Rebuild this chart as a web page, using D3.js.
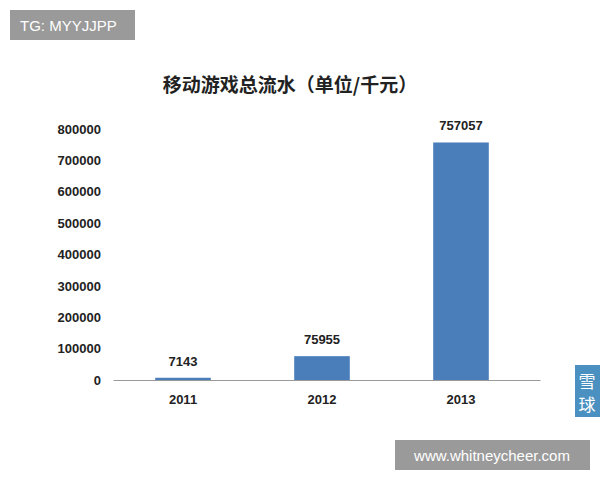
<!DOCTYPE html>
<html>
<head>
<meta charset="utf-8">
<script src="https://cdn.jsdelivr.net/npm/d3@7"></script>
<style>
  body { margin: 0; background: #fff; }
  svg { font-family: "Liberation Sans", Arial, sans-serif; }
</style>
</head>
<body>
<div id="vis"></div>
<script>
// chart data
const YEARS = ["2011", "2012", "2013"];
const REVENUE = [7143, 75955, 757057];
const Y_TICKS = [0, 100000, 200000, 300000, 400000, 500000, 600000, 700000, 800000];

const FRAME = d3.select("#vis").append("svg")
                .attr("width", 600).attr("height", 480);

const X_SCALE = d3.scaleBand().domain(YEARS).range([113.5, 530.5])
                  .paddingInner(0.6).paddingOuter(0.3);
const Y_SCALE = d3.scaleLinear().domain([0, 800000]).range([380, 129]);

// title
FRAME.append("text")
     .attr("x", 290).attr("y", 92)
     .attr("text-anchor", "middle")
     .attr("font-family", "Noto Sans CJK SC")
     .attr("font-size", 19).attr("font-weight", "bold").attr("fill", "#222")
     .text("移动游戏总流水（单位/千元）");

// y axis labels (no line)
const yAxis = FRAME.append("g")
     .attr("transform", "translate(101,0)")
     .call(d3.axisLeft(Y_SCALE).tickValues(Y_TICKS).tickSize(0).tickPadding(0).tickFormat(d3.format("d")));
yAxis.select(".domain").remove();
yAxis.selectAll("text").attr("font-size", 13).attr("font-weight", "bold").attr("fill", "#222")
     .attr("font-family", "Liberation Sans, Arial, sans-serif");

// bars
FRAME.selectAll(".bar").data(REVENUE).enter().append("rect")
     .attr("x", (d, i) => X_SCALE(YEARS[i]))
     .attr("y", d => Y_SCALE(d))
     .attr("width", X_SCALE.bandwidth())
     .attr("height", d => 380 - Y_SCALE(d))
     .attr("fill", "#4a7ebb");

// value labels
FRAME.selectAll(".val").data(REVENUE).enter().append("text")
     .attr("x", (d, i) => X_SCALE(YEARS[i]) + X_SCALE.bandwidth() / 2)
     .attr("y", d => Y_SCALE(d) - 12)
     .attr("text-anchor", "middle")
     .attr("font-size", 13).attr("font-weight", "bold").attr("fill", "#222")
     .text(d => d);

// x axis
const xAxis = FRAME.append("g")
     .attr("transform", "translate(0,380)")
     .call(d3.axisBottom(X_SCALE).tickSize(0).tickPadding(15));
xAxis.select(".domain").attr("stroke", "#999").attr("d", "M113.5,0.5H540.5");
xAxis.selectAll("text").attr("font-size", 13).attr("font-weight", "bold").attr("fill", "#222")
     .attr("font-family", "Liberation Sans, Arial, sans-serif");

// watermarks
FRAME.append("rect").attr("x", 10).attr("y", 10).attr("width", 125).attr("height", 30).attr("fill", "#9a9a9a");
FRAME.append("text").attr("x", 20).attr("y", 31).attr("fill", "#fff").attr("font-size", 15).text("TG: MYYJJPP");
FRAME.append("rect").attr("x", 395).attr("y", 440).attr("width", 195).attr("height", 30).attr("fill", "#9a9a9a");
FRAME.append("text").attr("x", 492).attr("y", 461).attr("text-anchor", "middle").attr("fill", "#fff").attr("font-size", 15).text("www.whitneycheer.com");
FRAME.append("rect").attr("x", 575).attr("y", 365).attr("width", 25).attr("height", 52).attr("fill", "#4a90c0");
FRAME.append("text").attr("x", 587).attr("y", 388).attr("text-anchor", "middle").attr("fill", "#fff")
     .attr("font-family", "Noto Sans CJK SC").attr("font-size", 17).text("雪");
FRAME.append("text").attr("x", 587).attr("y", 411).attr("text-anchor", "middle").attr("fill", "#fff")
     .attr("font-family", "Noto Sans CJK SC").attr("font-size", 17).text("球");
</script>
</body>
</html>
